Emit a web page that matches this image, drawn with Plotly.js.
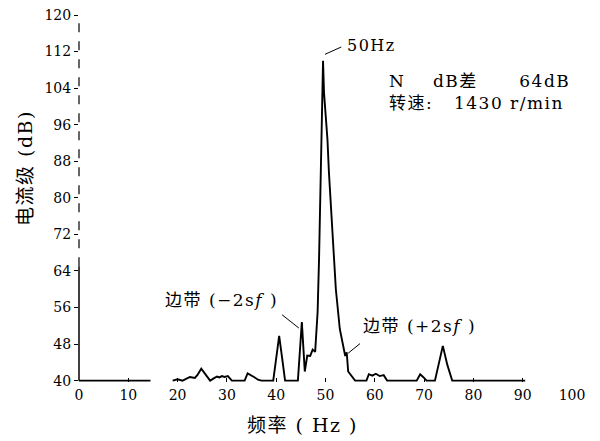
<!DOCTYPE html>
<html>
<head>
<meta charset="utf-8">
<script src="https://cdn.plot.ly/plotly-3.0.1.min.js"></script>
<style>
html,body{margin:0;padding:0;background:#fff;}
#chart{width:600px;height:441px;}
.annotation-text{letter-spacing:1.5px;}
</style>
</head>
<body>
<div id="chart"></div>
<script>
// Spectrum data (frequency in Hz, level in dB)
const freq = [0, 14.5, 17, 19, 20, 21, 22.5, 23.5, 24, 24.8, 25.5, 26.6, 27.5, 28, 28.5, 29, 29.5, 30.2, 31,
  33.6, 34.2, 34.8, 35.5, 36.3, 37, 39.4, 40.0, 40.6, 41.2, 41.8, 44.4, 44.8, 45.2, 45.8, 46.3, 46.9, 47.4, 47.9,
  48.4, 48.7, 49.1, 49.5, 49.7, 49.9, 50.4, 50.7, 51.5, 52.1, 52.9, 53.6, 54.0, 54.3, 54.6, 56,
  58.3, 58.8, 59.5, 60.2, 61, 61.8, 62.5, 68.5, 69.2, 69.8, 70.5, 72.2, 73.0, 73.8, 74.7, 75.7, 90.5];
const level = [40, 40, null, 40, 40.3, 40, 40.8, 40.6, 41.2, 42.6, 41.6, 40, 40.6, 40.9, 40.7, 41.0, 40.8, 41.0, 40,
  40, 41.6, 41.3, 40.8, 40.2, 40, 40, 45, 49.8, 45, 40, 40, 46, 52.8, 42, 45.5, 45.4, 46.8, 46.3,
  55, 67, 85.5, 110, 103, 100, 92.7, 85.5, 71, 60, 51.3, 47.5, 45.4, 46.2, 42, 40,
  40, 41.4, 41.1, 41.5, 41.0, 41.2, 40, 40, 41.4, 40.8, 40, 40, 44, 47.6, 43.5, 40, 40];

const xTicks = [0, 10, 20, 30, 40, 50, 60, 70, 80, 90, 100];
const yTicks = [40, 48, 56, 64, 72, 80, 88, 96, 104, 112, 120];

const serif = "DejaVu Serif, Noto Sans CJK SC, serif";
const txt = (s, x, y, size, extra) => Object.assign({
  text: s, xref: 'paper', yref: 'paper', x: (x - 79) / 493, y: (382 - y) / 367,
  xanchor: 'left', yanchor: 'middle', showarrow: false, align: 'left',
  font: {family: serif, size: size, color: '#000'}
}, extra || {});
const sp = n => '&nbsp;'.repeat(n);

const trace = {
  x: freq, y: level, type: 'scatter', mode: 'lines',
  line: {color: '#000', width: 1.9}, connectgaps: false, hoverinfo: 'skip'
};

const layout = {
  width: 600, height: 441,
  margin: {l: 79, r: 28, t: 15, b: 59},
  paper_bgcolor: '#fff', plot_bgcolor: '#fff',
  showlegend: false,
  xaxis: {
    range: [0, 100], tickvals: xTicks, ticktext: xTicks.map(String),
    showgrid: false, zeroline: false, showline: false,
    ticks: 'inside', ticklen: 4, tickcolor: '#000', ticklabelstandoff: 3,
    tickfont: {family: serif, size: 14, color: '#000'}
  },
  yaxis: {
    range: [39.7, 120], tickvals: yTicks, ticktext: yTicks.map(String),
    showgrid: false, zeroline: false, showline: false,
    ticks: 'outside', ticklen: 4, tickcolor: '#000',
    tickfont: {family: serif, size: 14, color: '#000'}
  },
  shapes: [
    {type: 'line', xref: 'paper', x0: 0, x1: 0, yref: 'y', y0: 40, y1: 65, line: {color: '#000', width: 1.5}},
    {type: 'line', xref: 'paper', x0: 0, x1: 0, yref: 'y', y0: 65, y1: 120, line: {color: '#000', width: 1.2, dash: 'dash'}},
    {type: 'line', xref: 'x', yref: 'y', x0: 49.9, y0: 111.4, x1: 53.2, y1: 113, line: {color: '#000', width: 1}},
    {type: 'line', xref: 'x', yref: 'y', x0: 41.2, y0: 54.4, x1: 44.6, y1: 51.5, line: {color: '#000', width: 1}},
    {type: 'line', xref: 'x', yref: 'y', x0: 57, y0: 48.1, x1: 54.6, y1: 46.0, line: {color: '#000', width: 1}}
  ],
  annotations: [
    txt('50Hz', 345, 45, 16),
    txt('N' + sp(4) + 'dB差' + sp(6) + '64dB<br>转速:' + sp(3) + '1430 r/min', 387, 92, 17),
    txt('边带 (−2s<i>f</i> )', 163, 300, 17),
    txt('边带 (+2s<i>f</i> )', 361, 326, 17),
    txt('电流级 (dB)', 25, 168, 19, {textangle: -90, xanchor: 'center'}),
    txt('频率 ( Hz )', 302, 425, 19, {xanchor: 'center'})
  ]
};

Plotly.newPlot('chart', [trace], layout, {staticPlot: true, displayModeBar: false});
</script>
</body>
</html>
